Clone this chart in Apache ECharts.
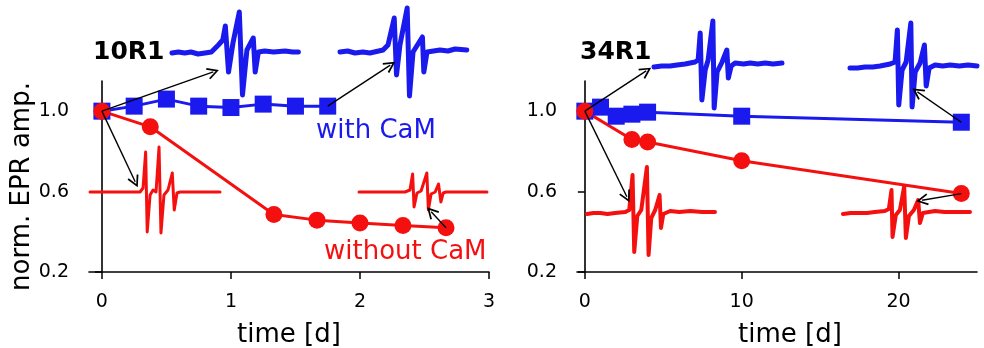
<!DOCTYPE html>
<html>
<head>
<meta charset="utf-8">
<script src="https://cdn.jsdelivr.net/npm/echarts@6/dist/echarts.min.js"></script>
<style>
  html, body { margin: 0; background: #fff; }
  #chart { width: 984px; height: 348px; }
</style>
</head>
<body>
<div id="chart"></div>
<script>
// ---- data ----
const yTicks = [0.2, 0.6, 1.0];
const xTicks10 = [0, 1, 2, 3];
const xTicks34 = [0, 10, 20];

// normalised EPR amplitude vs time [d]
const withCaM10 = [[0, 1.0], [0.25, 1.025], [0.5, 1.06], [0.75, 1.025], [1.0, 1.018], [1.25, 1.035], [1.5, 1.025], [1.75, 1.025]];
const withoutCaM10 = [[0, 1.0], [0.375, 0.922], [1.333, 0.486], [1.667, 0.458], [2.0, 0.444], [2.333, 0.431], [2.667, 0.42]];
const withCaM34 = [[0, 1.0], [1, 1.02], [2, 0.975], [3, 0.985], [4, 0.995], [10, 0.975], [24, 0.945]];
const withoutCaM34 = [[0, 1.0], [3, 0.859], [4, 0.847], [10, 0.753], [24, 0.59]];

// arrows from data points to the spectra (time, amplitude)
const arrows10 = [
  [[0, 1.0], [0.863, 1.195]],
  [[0, 1.0], [0.258, 0.649]],
  [[1.75, 1.025], [2.235, 1.229]],
  [[2.667, 0.42], [2.552, 0.5]]
];
const arrows34 = [
  [[0, 1.0], [3.91, 1.2]],
  [[0, 1.0], [2.68, 0.574]],
  [[24, 0.945], [21.2, 1.096]],
  [[24, 0.59], [21.5, 0.557]]
];

// inset spectra: [field (0-100), signal (a.u.)]
const spec10Cam0 = [[0, -1], [5, 0], [10, -1], [15, 0], [20.5, -2], [26, -1], [31, 0], [36.5, 7], [40, 12], [42, 26], [44.5, -20], [48, 9], [53, 40], [55.5, -43], [59, 2], [64, 14], [65.5, -20], [68, 0], [73, 1], [80, 0], [89, 1], [95, 0], [99.5, 0]];
const spec10Cam1 = [[0, 0], [6, 1], [11.8, -1], [18, 0], [23.6, -1], [33.9, 2], [37.8, 7], [42.7, 34], [44.5, -23], [47.2, 7], [52.9, 44], [54.7, -44], [57.5, 0], [64.9, 15], [66, -20], [68.5, 0], [78.7, 2], [85, 1], [90.6, 3], [99.8, 2]];
const spec10Free0 = [[0, 0], [38.5, 0], [40.8, 4], [42.8, 40], [44, -40], [46.2, -3], [48.5, 2], [50.8, 0], [53.1, 45], [54.6, -41], [56.9, -3], [60, 2], [63.3, 19], [64.8, -18], [66.9, -1], [69.2, 0], [100, 0]];
const spec10Free1 = [[0, 0], [35.9, 0], [39.8, 2], [41.9, 18], [43, -15], [45.3, -1], [48.5, 1], [53, 19], [54.2, -18], [56.3, -2], [59.5, 0], [62.1, 8], [64, -10], [65.8, -1], [68, 0], [100, 0]];
const spec34Cam0 = [[0, -1], [6, 0], [12.5, 0], [18, 1], [24.3, 2], [32.1, 4], [34.5, 6], [36.1, 33], [37.4, -34], [40, -4], [42.3, 6], [46, 45], [47, -42], [49.3, -6], [53.2, 4], [56.9, 16], [58.1, -12], [60.3, 0], [63.4, 3], [70, 2], [75.2, 3], [81, 2], [86.9, 3], [93, 2], [100, 3]];
const spec34Cam1 = [[0, 0], [6, 0], [11.8, 1], [18, 1], [23.7, 2], [31.6, 4], [35.5, 6], [37.3, 38], [38.4, -37], [41, -2], [44.2, 6], [47.9, 45], [48.9, -39], [51.3, -4], [55.2, 5], [58.6, 23], [60, -18], [62.3, 0], [67, 3], [73, 2], [78.9, 3], [86, 2], [93, 3], [100, 2]];
const spec34Free0 = [[0, -1], [5, 0], [10.4, 0], [16, -1], [22, 0], [29.9, 1], [33, 3], [35.6, 38], [36.9, -39], [39.3, -3], [42.4, 3], [46.8, 46], [48.1, -42], [50.2, -5], [53.3, 3], [56.7, 18], [57.8, -15], [59.6, -1], [65, 2], [72, 1], [80.6, 2], [90, 1], [100, 1]];
const spec34Free1 = [[0, -1], [6, 0], [13.2, 0], [19, 0], [25, 1], [32.9, 2], [36.1, 4], [38.2, 23], [39, -24], [41.6, -2], [44.8, 3], [48.2, 27], [49.5, -25], [51.9, -3], [55.8, 3], [59.2, 13], [60.6, -10], [62.9, 0], [72.4, 2], [80, 1], [88.2, 1], [100, 1]];

// ---- styling ----
const BLUE = '#1a1aee';
const RED = '#f51010';
const FONT = 'DejaVu Sans';

const chart = echarts.init(document.getElementById('chart'));

// inset boxes: left, baseline y, width (px), colour, line width
const insets = [
  { data: spec10Cam0, left: 172, base: 52, width: 127, color: BLUE, lw: 5 },
  { data: spec10Cam1, left: 340, base: 52, width: 127, color: BLUE, lw: 5 },
  { data: spec10Free0, left: 90, base: 192, width: 130, color: RED, lw: 3 },
  { data: spec10Free1, left: 359, base: 192, width: 128, color: RED, lw: 3 },
  { data: spec34Cam0, left: 654, base: 66, width: 128, color: BLUE, lw: 5 },
  { data: spec34Cam1, left: 850, base: 68, width: 127, color: BLUE, lw: 5 },
  { data: spec34Free0, left: 587, base: 213, width: 128, color: RED, lw: 4 },
  { data: spec34Free1, left: 843, base: 213, width: 127, color: RED, lw: 4 }
];

function mainX(gridIndex, min, max, ticks, nameShift) {
  return {
    type: 'value', gridIndex: gridIndex, min: min, max: max,
    name: 'time [d]', nameLocation: 'middle', nameGap: 50,
    nameTextStyle: { fontFamily: FONT, fontSize: 26, color: '#000', padding: [0, 0, 0, nameShift] },
    axisLine: { lineStyle: { color: '#000', width: 1.6 } },
    axisTick: { length: 7, lineStyle: { color: '#000', width: 1.5 }, customValues: ticks },
    axisLabel: { customValues: ticks, margin: 21, fontFamily: FONT, fontSize: 19, color: '#000' },
    splitLine: { show: false }
  };
}

function mainY(gridIndex, withName) {
  return {
    type: 'value', gridIndex: gridIndex, min: 0.2, max: 1.15,
    name: withName ? 'norm. EPR amp.' : '', nameLocation: 'middle', nameGap: 39,
    nameTextStyle: { fontFamily: FONT, fontSize: 26, color: '#000', padding: [0, 20, 0, 0] },
    axisLine: { show: true, lineStyle: { color: '#000', width: 1.6 } },
    axisTick: { show: true, length: 7, lineStyle: { color: '#000', width: 1.5 }, customValues: yTicks },
    axisLabel: { customValues: yTicks, margin: 20, fontFamily: FONT, fontSize: 19, color: '#000',
      formatter: function (v) { return v.toFixed(1); } },
    splitLine: { show: false }
  };
}

const grids = [
  { left: 89, top: 81, width: 400, height: 191, outerBoundsMode: 'none', containLabel: false },
  { left: 577, top: 81, width: 400, height: 191, outerBoundsMode: 'none', containLabel: false }
];
const xAxes = [mainX(0, -0.1, 3, xTicks10, 0), mainX(1, -0.5, 25, xTicks34, 26)];
const yAxes = [mainY(0, true), mainY(1, false)];
const series = [];

insets.forEach(function (s, i) {
  grids.push({ left: s.left, top: s.base - 50, width: s.width, height: 100, outerBoundsMode: 'none' });
  xAxes.push({ type: 'value', gridIndex: i + 2, min: 0, max: 100, show: false });
  yAxes.push({ type: 'value', gridIndex: i + 2, min: -50, max: 50, show: false });
  series.push({
    type: 'line', xAxisIndex: i + 2, yAxisIndex: i + 2, data: s.data,
    showSymbol: false, clip: false, silent: true, z: 1,
    lineStyle: { color: s.color, width: s.lw, join: 'round', cap: 'round' }
  });
});

function dataLine(data, axis, color, symbol) {
  return {
    type: 'line', xAxisIndex: axis, yAxisIndex: axis, data: data,
    symbol: symbol, symbolSize: 17, clip: false, z: 3,
    lineStyle: { color: color, width: 3 },
    itemStyle: { color: color }
  };
}

series.push(dataLine(withCaM10, 0, BLUE, 'rect'));
series.push(dataLine(withoutCaM10, 0, RED, 'circle'));
series.push(dataLine(withCaM34, 1, BLUE, 'rect'));
series.push(dataLine(withoutCaM34, 1, RED, 'circle'));

const arrowHead = 'path://M5,0L10,10L8.7,10.8L5,3.2L1.3,10.8L0,10Z';
[arrows10, arrows34].forEach(function (list, axis) {
  series.push({
    type: 'lines', coordinateSystem: 'cartesian2d', xAxisIndex: axis, yAxisIndex: axis,
    clip: false, silent: true, z: 4,
    symbol: ['none', arrowHead], symbolSize: [13, 12],
    lineStyle: { color: '#000', width: 1.4, opacity: 1, curveness: 0 },
    data: list.map(function (c) { return { coords: c }; })
  });
});

chart.setOption({
  animation: false,
  backgroundColor: '#fff',
  grid: grids,
  xAxis: xAxes,
  yAxis: yAxes,
  series: series,
  graphic: [
    { type: 'text', left: 93, top: 40, style: { text: '10R1', font: 'bold 25px ' + FONT, fill: '#000' } },
    { type: 'text', left: 580, top: 40, style: { text: '34R1', font: 'bold 25px ' + FONT, fill: '#000' } },
    { type: 'text', left: 316, top: 118, style: { text: 'with CaM', font: '26px ' + FONT, fill: BLUE } },
    { type: 'text', left: 324, top: 239, style: { text: 'without CaM', font: '26px ' + FONT, fill: RED } }
  ]
});
</script>
</body>
</html>
